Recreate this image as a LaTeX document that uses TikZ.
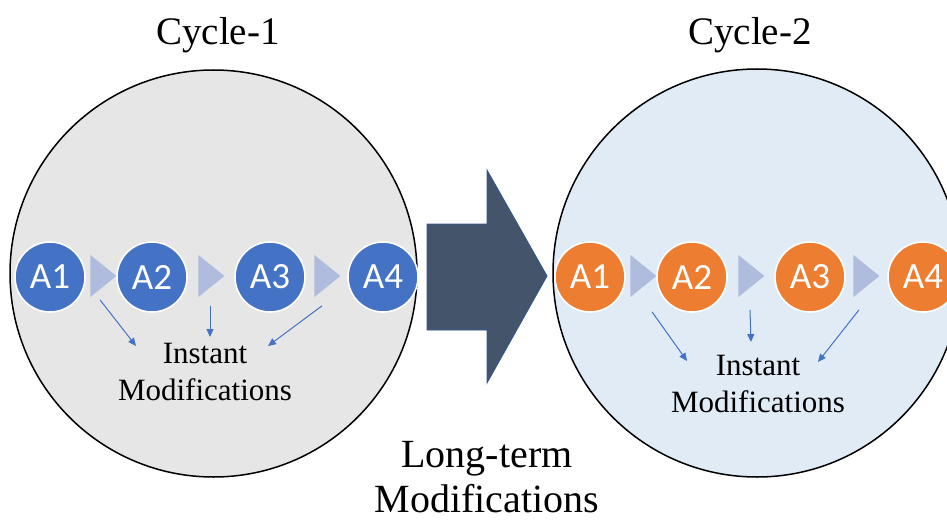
\documentclass[tikz,border=0pt]{standalone}
\usepackage{fontspec}
\setmainfont{Liberation Serif}
\newfontfamily\calibrifont{Carlito}
\usetikzlibrary{shapes.geometric, arrows.meta}
\definecolor{actblue}{HTML}{4472C4}
\definecolor{actorange}{HTML}{ED7D31}
\definecolor{steptri}{HTML}{B0BCDE}
\definecolor{cyclegray}{HTML}{E6E6E6}
\definecolor{cycleblue}{HTML}{E0EBF6}
\definecolor{bigarrow}{HTML}{44546A}
\definecolor{arrowedge}{HTML}{2F5597}

\begin{document}
\begin{tikzpicture}[x=0.5pt, y=-0.5pt,
  act/.style={circle, draw=white, line width=0.8pt, minimum size=35pt, inner sep=0pt,
    text=white, font=\calibrifont\fontsize{18.5}{18.5}\selectfont},
  tri/.style={isosceles triangle, isosceles triangle stretches, fill=steptri,
    minimum height=13pt, minimum width=21pt, inner sep=0pt, anchor=lower side},
  cyc/.style={draw=black, line width=0.75pt},
  title/.style={font=\fontsize{19.5}{19.5}\selectfont, anchor=base},
  inst/.style={align=center, font=\fontsize{15.5}{18.8}\selectfont},
  tip/.style={-{Triangle[length=4pt, width=3.5pt]}, draw=actblue, line width=0.5pt}]
\clip (0,0) rectangle (947,519);

\draw[cyc, fill=cyclegray] (213.5,273.5) circle[radius=203.5];
\draw[cyc, fill=cycleblue] (757,273) circle[radius=204];
\node[title] (cyc1) at (218,45) {Cycle-1};
\node[title] (cyc2) at (750,45) {Cycle-2};

\node[act, fill=actblue] (a1) at (50,277) {A1};
\node[act, fill=actblue] (a2) at (152,277) {A2};
\node[act, fill=actblue] (a3) at (270,277) {A3};
\node[act, fill=actblue] (a4) at (383,277) {A4};
\node[tri] (t1) at (90,276) {};
\node[tri] (t2) at (198,276) {};
\node[tri] (t3) at (314,276) {};

\node[act, fill=actorange] (b1) at (590,277) {A1};
\node[act, fill=actorange] (b2) at (692,277) {A2};
\node[act, fill=actorange] (b3) at (810,277) {A3};
\node[act, fill=actorange] (b4) at (923,277) {A4};
\node[tri] (t4) at (630,276) {};
\node[tri] (t5) at (738,276) {};
\node[tri] (t6) at (853,276) {};

\node[inst] (im1) at (205,372) {Instant\\Modifications};
\node[inst] (im2) at (758,384) {Instant\\Modifications};

\coordinate (e1) at (136,346);
\coordinate (e2) at (210,337);
\coordinate (e3) at (268,346);
\coordinate (e4) at (687,361);
\coordinate (e5) at (751,342);
\coordinate (e6) at (818,362);

\draw[tip] ([xshift=5pt, yshift=-1pt]t1.right corner) -- (e1);
\draw[tip] ([xshift=6pt, yshift=-4pt]t2.right corner) -- (e2);
\draw[tip] ([xshift=4pt, yshift=-4pt]t3.right corner) -- (e3);
\draw[tip] ([xshift=11pt, yshift=-7pt]t4.right corner) -- (e4);
\draw[tip] ([xshift=6pt, yshift=-6pt]t5.right corner) -- (e5);
\draw[tip] ([xshift=3pt, yshift=-6pt]t6.right corner) -- (e6);

\draw[fill=bigarrow, draw=arrowedge, line width=0.4pt]
  (427,224) -- (487,224) -- (487,170) -- (547,276) -- (487,383) -- (487,330) -- (427,330) -- cycle;
\node[align=center, font=\fontsize{20}{22.5}\selectfont] (lt) at (487,477) {Long-term\\Modifications};
\end{tikzpicture}
\end{document}
